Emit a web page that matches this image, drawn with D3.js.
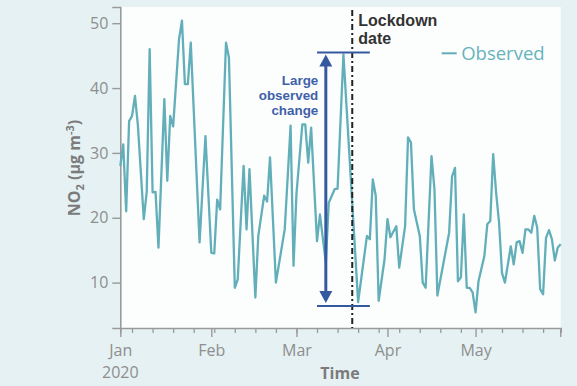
<!DOCTYPE html>
<html>
<head>
<meta charset="utf-8">
<script src="https://cdn.jsdelivr.net/npm/d3@7"></script>
<style>
  html, body { margin: 0; padding: 0; background: #e5f1f3; }
  svg { display: block; font-family: "Open Sans", sans-serif; }
</style>
</head>
<body>
<svg id="chart" width="577" height="386"></svg>
<script>
// Daily NO2 concentration (µg m-3), observed
const dates = [
  "2020-01-01","2020-01-02","2020-01-03","2020-01-04","2020-01-05","2020-01-06","2020-01-07",
  "2020-01-09","2020-01-10","2020-01-11","2020-01-12","2020-01-13","2020-01-14","2020-01-16",
  "2020-01-17","2020-01-18","2020-01-19","2020-01-21","2020-01-22","2020-01-23","2020-01-24",
  "2020-01-25","2020-01-28","2020-01-30","2020-02-01","2020-02-02","2020-02-03","2020-02-04",
  "2020-02-06","2020-02-07","2020-02-09","2020-02-10","2020-02-12","2020-02-13","2020-02-14",
  "2020-02-16","2020-02-17","2020-02-19","2020-02-20","2020-02-21","2020-02-23","2020-02-26",
  "2020-02-28","2020-02-29","2020-03-01","2020-03-03","2020-03-04","2020-03-05","2020-03-06",
  "2020-03-08","2020-03-09","2020-03-11","2020-03-12","2020-03-14","2020-03-15","2020-03-17",
  "2020-03-22","2020-03-25","2020-03-26","2020-03-27","2020-03-28","2020-03-29","2020-03-31",
  "2020-04-01","2020-04-02","2020-04-04","2020-04-05","2020-04-07","2020-04-08","2020-04-09",
  "2020-04-10","2020-04-12","2020-04-13","2020-04-14","2020-04-16","2020-04-17","2020-04-18",
  "2020-04-22","2020-04-23","2020-04-24","2020-04-25","2020-04-26","2020-04-27","2020-04-28",
  "2020-04-29","2020-04-30","2020-05-01","2020-05-02","2020-05-04","2020-05-05","2020-05-06",
  "2020-05-07","2020-05-08","2020-05-09","2020-05-10","2020-05-11","2020-05-13","2020-05-14",
  "2020-05-15","2020-05-16","2020-05-17","2020-05-18","2020-05-19","2020-05-20","2020-05-21",
  "2020-05-22","2020-05-23","2020-05-24","2020-05-25","2020-05-26","2020-05-27","2020-05-28",
  "2020-05-29","2020-05-30"
];
const observed = [
  28.0, 31.3, 21.0, 34.9, 35.7, 38.8, 34.2,
  19.8, 24.0, 46.0, 23.9, 24.0, 15.4, 38.3,
  25.7, 35.7, 34.1, 47.5, 50.4, 40.6, 40.6,
  47.0, 16.2, 32.6, 14.6, 14.5, 22.8, 21.3,
  47.0, 44.7, 9.2, 10.5, 28.0, 18.2, 27.5,
  7.7, 17.2, 23.4, 22.5, 29.3, 10.0, 18.2,
  34.2, 12.6, 23.7, 34.4, 34.4, 28.5, 33.9,
  16.4, 20.5, 13.1, 22.3, 24.4, 24.5, 45.2,
  7.0, 17.2, 16.7, 25.9, 23.4, 7.2, 13.6,
  19.8, 17.0, 18.7, 12.3, 18.7, 32.4, 31.6,
  21.3, 17.2, 10.0, 9.2, 29.5, 24.4, 8.0,
  17.7, 26.4, 27.7, 10.2, 10.8, 20.5, 9.2,
  9.2, 8.5, 5.4, 10.2, 14.1, 19.0, 19.5,
  29.8, 23.9, 19.3, 11.5, 10.0, 15.6, 12.8,
  16.2, 16.4, 14.6, 18.2, 18.2, 17.7, 20.3,
  18.5, 9.0, 8.2, 16.9, 18.1, 16.7, 13.4,
  15.4, 15.9
];

const monthTicks = ["2020-01-01", "2020-02-01", "2020-03-01", "2020-04-01", "2020-05-01"];
const monthLabels = ["Jan", "Feb", "Mar", "Apr", "May"];
const yearLabel = "2020";
const yTicks = [10, 20, 30, 40, 50];

const lockdownDate = "2020-03-20";
const changeLevels = [45.5, 6.4];              // top and bottom of the marked change
const changeSpan = ["2020-03-08", "2020-03-26"];
const arrowDate = "2020-03-11";

const parse = d3.utcParse("%Y-%m-%d");
const series = dates.map((d, i) => ({ date: parse(d), value: observed[i] }));

const svg = d3.select("#chart");
const W = 577, H = 386;
const plot = { left: 120.3, right: 560.7, top: 7, bottom: 328 };

const x = d3.scaleUtc()
  .domain([parse("2020-01-01"), parse("2020-05-30")])
  .range([plot.left, plot.right]);
const y = d3.scaleLinear()
  .domain([3, 52.5])
  .range([plot.bottom, plot.top]);

// backgrounds
svg.append("rect").attr("width", W).attr("height", H).attr("fill", "#e5f1f3");
svg.append("rect")
  .attr("x", plot.left).attr("y", plot.top)
  .attr("width", plot.right - plot.left).attr("height", plot.bottom - plot.top)
  .attr("fill", "#fcfefe");

const axisColor = "#9a9a9a";
const tickText = "#8e8e8e";

// y axis
const yAxis = svg.append("g")
  .attr("transform", `translate(${plot.left},0)`)
  .call(d3.axisLeft(y).tickValues(yTicks).tickSize(8).tickPadding(4).tickFormat(d3.format("d")));
yAxis.select(".domain").attr("stroke", axisColor).attr("stroke-width", 1.6);
yAxis.selectAll(".tick line").attr("stroke", axisColor).attr("stroke-width", 1.4);
yAxis.selectAll(".tick text")
  .attr("fill", tickText).attr("font-size", 16).attr("font-family", "Open Sans, sans-serif");

// x axis: weekly minor ticks
const xMinor = svg.append("g")
  .attr("transform", `translate(0,${plot.bottom})`)
  .call(d3.axisBottom(x).ticks(d3.utcSunday.every(1)).tickSize(5).tickFormat(""));
xMinor.select(".domain").attr("stroke", axisColor).attr("stroke-width", 1.6);
xMinor.selectAll(".tick line").attr("stroke", axisColor).attr("stroke-width", 1.3);

// x axis: month ticks with labels
const xMajor = svg.append("g")
  .attr("transform", `translate(0,${plot.bottom})`)
  .call(d3.axisBottom(x)
    .tickValues(monthTicks.map(parse))
    .tickSize(9).tickPadding(8)
    .tickFormat((d, i) => monthLabels[i]));
xMajor.select(".domain").remove();
xMajor.selectAll(".tick line").attr("stroke", axisColor).attr("stroke-width", 1.4);
xMajor.selectAll(".tick text")
  .attr("fill", tickText).attr("font-size", 16).attr("font-family", "Open Sans, sans-serif");
// end tick
svg.append("line")
  .attr("x1", plot.right).attr("x2", plot.right)
  .attr("y1", plot.bottom).attr("y2", plot.bottom + 9)
  .attr("stroke", axisColor).attr("stroke-width", 1.4);

svg.append("text")
  .attr("x", x(parse(monthTicks[0]))).attr("y", 377.8)
  .attr("text-anchor", "middle")
  .attr("fill", tickText).attr("font-size", 16)
  .text(yearLabel);

// axis titles
svg.append("text")
  .attr("x", 340).attr("y", 378.5)
  .attr("text-anchor", "middle")
  .attr("fill", "#7b7b7b").attr("font-size", 16).attr("font-weight", 700)
  .text("Time");

const yTitle = svg.append("text")
  .attr("transform", "translate(80,168) rotate(-90)")
  .attr("text-anchor", "middle")
  .attr("fill", "#7b7b7b").attr("font-size", 16).attr("font-weight", 700);
yTitle.append("tspan").text("NO");
yTitle.append("tspan").attr("font-size", 11).attr("dy", 4).text("2");
yTitle.append("tspan").attr("dy", -4).text(" (µg m");
yTitle.append("tspan").attr("font-size", 11).attr("dy", -6).text("-3");
yTitle.append("tspan").attr("dy", 6).text(")");

// observed series
const lineColor = "#62aeb9";
svg.append("path")
  .datum(series)
  .attr("fill", "none")
  .attr("stroke", lineColor)
  .attr("stroke-width", 2.3)
  .attr("stroke-linejoin", "round")
  .attr("d", d3.line().x(d => x(d.date)).y(d => y(d.value)));

// lockdown marker
const annoFont = "'Liberation Sans', Arial, sans-serif";
const xl = x(parse(lockdownDate));
svg.append("line")
  .attr("x1", xl).attr("x2", xl)
  .attr("y1", 10).attr("y2", plot.bottom)
  .attr("stroke", "#222").attr("stroke-width", 2)
  .attr("stroke-dasharray", "6,3,2,3");
["Lockdown", "date"].forEach((t, i) => {
  svg.append("text")
    .attr("x", xl + 6).attr("y", 26 + i * 18)
    .attr("fill", "#333").attr("font-size", 16).attr("font-weight", 700)
    .attr("font-family", annoFont)
    .text(t);
});

// observed change annotation
const blue = "#35599f";
const xs0 = x(parse(changeSpan[0])), xs1 = x(parse(changeSpan[1]));
changeLevels.forEach(v => {
  svg.append("line")
    .attr("x1", xs0).attr("x2", xs1)
    .attr("y1", y(v)).attr("y2", y(v))
    .attr("stroke", blue).attr("stroke-width", 2);
});
const xa = x(parse(arrowDate));
const yTop = y(changeLevels[0]) + 2, yBot = y(changeLevels[1]) - 3;
svg.append("line")
  .attr("x1", xa).attr("x2", xa)
  .attr("y1", yTop + 8).attr("y2", yBot - 8)
  .attr("stroke", blue).attr("stroke-width", 3);
svg.append("path")
  .attr("d", `M${xa},${yTop} L${xa - 6.5},${yTop + 12} L${xa + 6.5},${yTop + 12} Z`)
  .attr("fill", blue);
svg.append("path")
  .attr("d", `M${xa},${yBot} L${xa - 6.5},${yBot - 12} L${xa + 6.5},${yBot - 12} Z`)
  .attr("fill", blue);
["Large", "observed", "change"].forEach((t, i) => {
  svg.append("text")
    .attr("x", xa - 7.5).attr("y", 84.5 + i * 15)
    .attr("text-anchor", "end")
    .attr("fill", "#3f61a8").attr("font-size", 13.4).attr("font-weight", 700)
    .attr("font-family", annoFont)
    .text(t);
});

// legend
const legend = svg.append("g").attr("transform", "translate(441.7,53.3)");
legend.append("line").attr("x1", 0).attr("x2", 15).attr("y1", 0).attr("y2", 0)
  .attr("stroke", lineColor).attr("stroke-width", 2);
legend.append("text").attr("x", 19.5).attr("y", 6.7)
  .attr("fill", "#67b2bc").attr("font-size", 18.5)
  .text("Observed");
</script>
</body>
</html>
